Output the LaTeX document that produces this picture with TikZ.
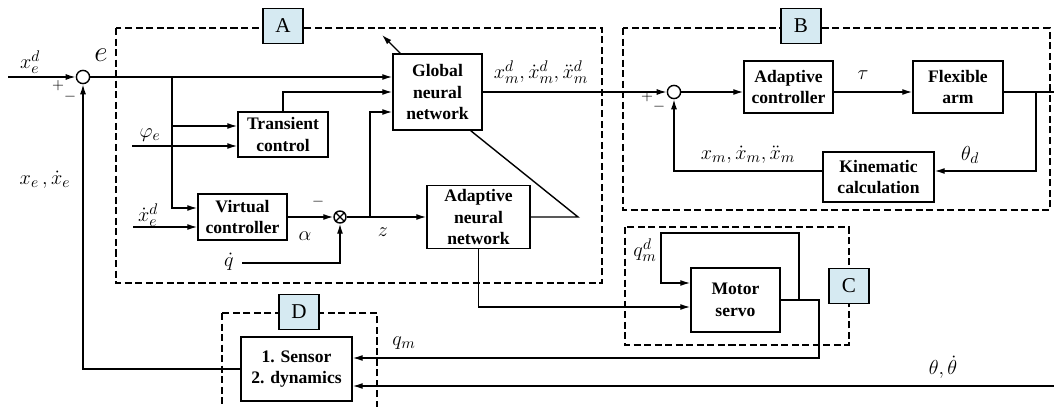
\documentclass[tikz,border=0pt]{standalone}
\usepackage{amsmath}
\usepackage{fontspec}
\setmainfont{Liberation Serif}
\usetikzlibrary{arrows.meta,calc}
\definecolor{tagblue}{RGB}{214,234,242}
\tikzset{
	blk/.style={draw, align=center, inner sep=0pt, font=\fontsize{12.5}{15.4}\selectfont\bfseries},
	sig/.style={inner sep=0pt, font=\fontsize{15}{18}\selectfont},
	pm/.style={inner sep=0pt, font=\fontsize{11}{12}\selectfont},
	sumnode/.style={draw, circle, minimum size=0.33cm, inner sep=0pt},
	grp/.style={draw, dash pattern=on 5pt off 2.5pt},
	tag/.style={draw, fill=tagblue, minimum width=1cm, minimum height=0.875cm, inner sep=0pt, font=\fontsize{15}{18}\selectfont}
}

\begin{document}
\begin{tikzpicture}[x=0.025cm,y=-0.025cm,line width=1pt,>={Latex[length=2.5mm,width=1.5mm]}]
	\clip (0,0) rectangle (1054,407);
	% dashed groups
	\draw[grp] (116,28) rectangle (602,283);
	\draw[grp] (623,28) rectangle (1050,210);
	\draw[grp] (625,227) rectangle (849,345);
	\draw[grp] (222,313) rectangle (377,420);
	\node[tag] (GA) at (283,26) {A};
	\node[tag] (GB) at (801,26) {B};
	\node[tag] (GC) at (849,286) {C};
	\node[tag] (GD) at (299,312) {D};

	\node[blk, minimum width=2.225cm, minimum height=1.9cm] (GNN) at (437.5,92) {Global\\neural\\network};
	\node[blk, minimum width=2.25cm, minimum height=1.125cm] (TC) at (283,134.5) {Transient\\control};
	\node[blk, minimum width=2.225cm, minimum height=1.15cm] (VC) at (242.5,217) {Virtual\\controller};
	\node[blk, minimum width=2.575cm, minimum height=1.575cm] (ANN) at (478.5,217) {Adaptive\\neural\\network};
	\node[blk, minimum width=2.225cm, minimum height=1.3cm] (AC) at (788.5,87) {Adaptive\\controller};
	\node[blk, minimum width=2.25cm, minimum height=1.3cm] (FA) at (958,87) {Flexible\\arm};
	\node[blk, minimum width=2.775cm, minimum height=1.25cm] (KC) at (878.5,177) {Kinematic\\calculation};
	\node[blk, minimum width=2.225cm, minimum height=1.6cm] (MS) at (735.5,300) {Motor\\servo};
	\node[blk, minimum width=2.775cm, minimum height=1.6cm] (SD) at (296.5,369) {1. Sensor\\2. dynamics};
	\node[sumnode] (S1) at (83,77) {};
	\node[sumnode] (S2) at (674,92) {};
	\node[sumnode, minimum size=0.3cm] (M1) at (340,217) {};
	\draw (M1.north west) -- (M1.south east) (M1.north east) -- (M1.south west);

	\coordinate (IN) at (8,77);
	\coordinate (J1) at (172,77);
	\coordinate (J2) at (172,126);
	\coordinate (PH) at (132,146);
	\coordinate (XD) at (133,227);
	\coordinate (QD) at (242,263);
	\coordinate (J3) at (370,217);
	\coordinate (T1) at (578,217);
	\coordinate (AR) at (382,35);
	\coordinate (J4) at (1036,92);
	\coordinate (OUT) at (1060,92);
	\coordinate (K1) at (819,358);
	\coordinate (K2) at (799,300);
	\coordinate (L1) at (661,233);
	\coordinate (TH) at (1060,386);

	\draw[->] (IN) -- (S1);
	\draw[->] (S1) -- (S1 -| GNN.west);
	\draw[->] (J1) |- ($(VC.west)+(0,-9)$);
	\draw[->] (J2) -- (J2 -| TC.west);
	\draw[->] (PH) -- (PH -| TC.west);
	\draw[->] (TC.north) |- (GNN.west);
	\draw[->] (XD) -- (XD -| VC.west);
	\draw[->] (VC) -- (M1);
	\draw[->] (QD) -| (M1);
	\draw[->] (M1) -- (ANN);
	\draw[->] (J3) |- ($(GNN.west)+(0,20)$);
	\draw (ANN.east) -- (T1) -- ($(GNN.south east)+(-12,0)$);
	\draw[->] ($(GNN.north west)+(8,0)$) -- (AR);
	\draw[->] (GNN) -- (S2);
	\draw[->] (S2) -- (S2 -| AC.west);
	\draw[->] (S2 -| AC.east) -- (S2 -| FA.west);
	\draw (S2 -| FA.east) -- (OUT);
	\draw[->] (J4) |- ($(KC.east)+(0,-6)$);
	\draw[->] ($(KC.west)+(0,-6)$) -| (S2);
	\draw[->] (ANN) |- ($(MS.west)+(0,7)$);
	\draw[->] (MS.east) -| (K1) -- (K1 -| SD.east);
	\draw[->] (K2) |- (L1) |- ($(MS.west)+(0,-17)$);
	\draw[->] (TH) -- (TH -| SD.east);
	\draw[->] (SD) -| (S1);

	\node[sig] (Lxed) at (30,62) {$x_e^d$};
	\node[sig, font=\fontsize{22}{24}\selectfont] (Le) at (101,55) {$e$};
	\node[pm] (P1) at (58,86) {$+$};
	\node[pm] (N1) at (70,97) {$-$};
	\node[sig] (Lxe) at (45,180) {$x_e\,,\dot{x}_e$};
	\node[sig] (Lph) at (150,135) {$\varphi_e$};
	\node[sig] (Lxde) at (148,215) {$\dot{x}_e^d$};
	\node[pm] (N2) at (318,202) {$-$};
	\node[sig] (Lal) at (305,236) {$\alpha$};
	\node[sig] (Lqd) at (229,262) {$\dot{q}$};
	\node[sig] (Lz) at (383,232) {$z$};
	\node[sig] (Lxmd) at (541,72) {$x_m^d,\dot{x}_m^d,\ddot{x}_m^d$};
	\node[pm] (P2) at (647,97) {$+$};
	\node[pm] (N3) at (659,107) {$-$};
	\node[sig] (Ltau) at (863,75) {$\tau$};
	\node[sig] (Lthd) at (970,155) {$\theta_d$};
	\node[sig] (Lxm) at (748,155) {$x_m,\dot{x}_m,\ddot{x}_m$};
	\node[sig] (Lqmd) at (645,250) {$q_m^d$};
	\node[sig] (Lqm) at (404,343) {$q_m$};
	\node[sig] (Lth) at (943,367) {$\theta,\dot{\theta}$};
\end{tikzpicture}
\end{document}
